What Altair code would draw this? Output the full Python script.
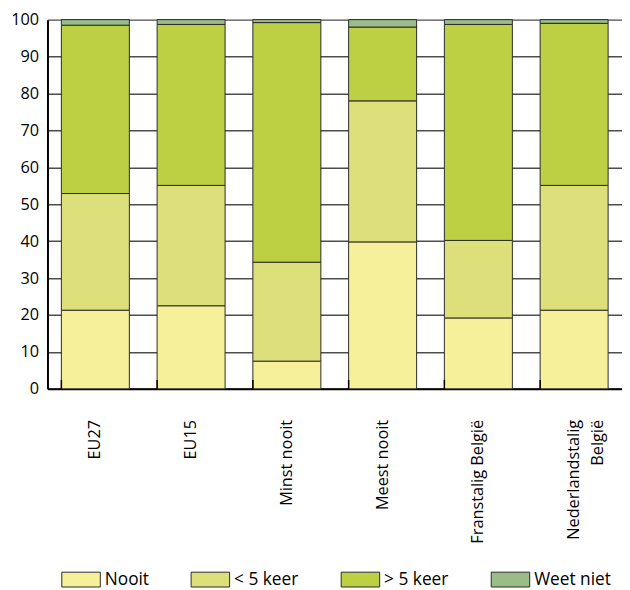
import altair as alt
import pandas as pd

categories = ["EU27", "EU15", "Minst nooit", "Meest nooit", "Franstalig België", "Nederlandstalig België"]
series = ["Nooit", "< 5 keer", "> 5 keer", "Weet niet"]
nooit = [21.3, 22.5, 7.5, 39.8, 19.2, 21.3]
minder5 = [31.6, 32.6, 26.8, 38.2, 21.0, 33.8]
meer5 = [45.6, 43.6, 64.9, 20.0, 58.5, 43.9]
weetniet = [1.5, 1.3, 0.8, 2.0, 1.3, 1.0]
colors = ["#F7F09A", "#DDE07A", "#BDD043", "#99BC88"]
y_ticks = list(range(0, 101, 10))

values = [nooit, minder5, meer5, weetniet]
rows = []
for si, s in enumerate(series):
    for ci, c in enumerate(categories):
        rows.append({"cat": c, "series": s, "idx": si, "value": values[si][ci]})
df = pd.DataFrame(rows)

W, H = 582, 374
FONT = "Open Sans"

label_expr = (
    "datum.value == 'Nederlandstalig België' ? ['Nederlandstalig', 'België'] : datum.value"
)

xscale = alt.Scale(domain=categories, paddingInner=0.29, paddingOuter=0.145)

bars = alt.Chart(df).mark_bar(stroke="#2a2a2a", strokeWidth=1).encode(
    x=alt.X("cat:N", scale=xscale, sort=categories, title=None,
            axis=alt.Axis(labelAngle=-90, labelAlign="right", labelBaseline="middle",
                          labelFont=FONT, labelFontSize=16.5, labelColor="#000",
                          labelExpr=label_expr, labelPadding=31, labelLineHeight=24,
                          ticks=False, domain=True, domainColor="#000", domainWidth=2,
                          labelLimit=300)),
    y=alt.Y("value:Q", stack="zero", scale=alt.Scale(domain=[0, 100], nice=False),
            title=None,
            axis=alt.Axis(values=y_ticks, labelFont=FONT, labelFontSize=16.5, labelColor="#000",
                          ticks=False, labelPadding=9, domain=True, domainColor="#000",
                          domainWidth=2, grid=True, gridColor="#4d4d4d", gridWidth=1.5)),
    color=alt.Color("series:N", scale=alt.Scale(domain=series, range=colors),
                    legend=alt.Legend(title=None, orient="none", direction="horizontal",
                                      columns=4, legendX=14, legendY=547,
                                      symbolType="M-1,-0.385L1,-0.385L1,0.385L-1,0.385Z",
                                      symbolSize=1521, symbolStrokeColor="#2a2a2a",
                                      symbolStrokeWidth=1, symbolOpacity=1,
                                      labelFont=FONT, labelFontSize=17.5, labelColor="#000",
                                      labelOffset=4, columnPadding=40)),
    order=alt.Order("idx:Q", sort="ascending"),
)

tick_df = pd.DataFrame({"cat": categories})
ticks = alt.Chart(tick_df).mark_rule(color="#000", strokeWidth=1.5).encode(
    x=alt.X("cat:N", scale=xscale, sort=categories, bandPosition=0),
    y=alt.value(H),
    y2=alt.value(H - 9),
)

chart = alt.layer(bars, ticks).properties(
    width=W, height=H,
    autosize=alt.AutoSizeParams(type="none"),
    padding={"left": 40, "top": 8, "right": 0, "bottom": 200},
).configure_view(stroke=None)

chart.save("out.html", embed_options={"renderer": "svg", "actions": False})
